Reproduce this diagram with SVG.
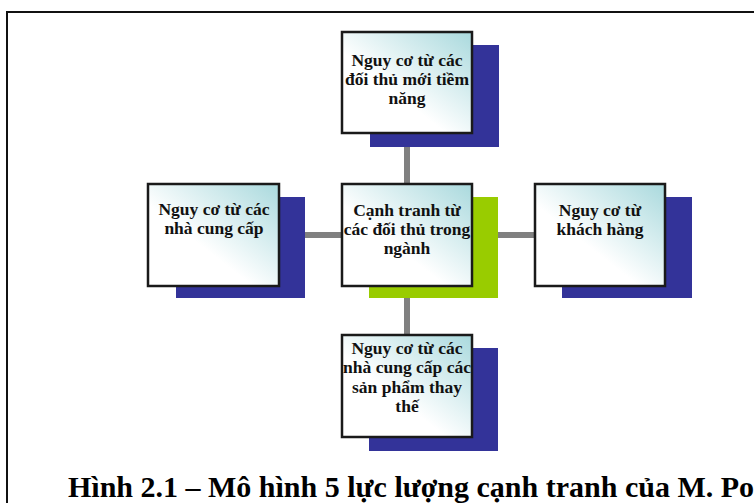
<svg xmlns="http://www.w3.org/2000/svg" width="754" height="503" viewBox="0 0 754 503">
  <defs>
    <linearGradient id="fill" x1="1" y1="0" x2="0" y2="1">
      <stop offset="0" stop-color="#a9d9dd"/>
      <stop offset="0.6" stop-color="#ffffff"/>
      <stop offset="1" stop-color="#ffffff"/>
    </linearGradient>
  </defs>
  <style>
    .frame { fill: none; stroke: #111; stroke-width: 2; }
    .shadow { fill: #333399; }
    .shadow-g { fill: #99cc00; }
    .box { fill: url(#fill); stroke: #1a1a1a; stroke-width: 2.5; }
    .conn { stroke: #808080; stroke-width: 6; fill: none; }
    .t { font-family: "Liberation Serif", "Times New Roman", serif; font-weight: bold; font-size: 17.5px; fill: #111; text-anchor: middle; }
    .cap { font-family: "Liberation Serif", "Times New Roman", serif; font-weight: bold; font-size: 30px; fill: #000; }
  </style>
  <rect x="0" y="0" width="754" height="503" fill="#ffffff"/>
  <rect class="frame" x="7" y="12" width="800" height="600"/>

  <g id="connectors">
    <line class="conn" x1="407" y1="133" x2="407" y2="335"/>
    <line class="conn" x1="279" y1="235" x2="535" y2="235"/>
  </g>

  <g id="node-top">
    <rect class="shadow" x="370" y="45" width="129" height="102"/>
    <rect class="box" x="342" y="32" width="130" height="101"/>
    <text class="t" x="407" y="66">Nguy cơ từ các</text>
    <text class="t" x="407" y="85">đối thủ mới tiềm</text>
    <text class="t" x="407" y="104">năng</text>
  </g>

  <g id="node-left">
    <rect class="shadow" x="176" y="197" width="129" height="101"/>
    <rect class="box" x="148" y="184" width="131" height="102"/>
    <text class="t" x="214" y="215">Nguy cơ từ các</text>
    <text class="t" x="214" y="234">nhà cung cấp</text>
  </g>

  <g id="node-center">
    <rect class="shadow-g" x="369" y="197" width="129" height="101"/>
    <rect class="box" x="342" y="184" width="130" height="102"/>
    <text class="t" x="407" y="216">Cạnh tranh từ</text>
    <text class="t" x="407" y="235">các đối thủ trong</text>
    <text class="t" x="407" y="254">ngành</text>
  </g>

  <g id="node-right">
    <rect class="shadow" x="562" y="197" width="130" height="101"/>
    <rect class="box" x="535" y="184" width="130" height="102"/>
    <text class="t" x="600" y="216">Nguy cơ từ</text>
    <text class="t" x="600" y="235">khách hàng</text>
  </g>

  <g id="node-bottom">
    <rect class="shadow" x="369" y="348" width="129" height="103"/>
    <rect class="box" x="342" y="335" width="130" height="102"/>
    <text class="t" x="407" y="354">Nguy cơ từ các</text>
    <text class="t" x="407" y="373">nhà cung cấp các</text>
    <text class="t" x="407" y="393">sản phẩm thay</text>
    <text class="t" x="407" y="412">thế</text>
  </g>

  <text class="cap" x="68" y="497">Hình 2.1 – Mô hình 5 lực lượng cạnh tranh của M. Porter</text>
</svg>
